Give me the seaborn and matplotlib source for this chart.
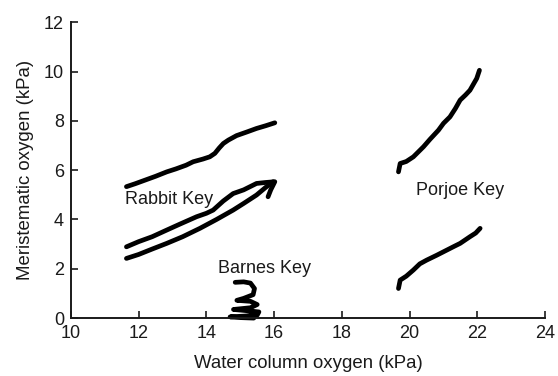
import matplotlib
matplotlib.use("Agg")
import matplotlib.pyplot as plt
import seaborn as sns
import pandas as pd

rabbit_top_x = [11.64, 11.9, 12.2, 12.5, 12.83, 13.1, 13.4, 13.61, 13.9, 14.10, 14.25, 14.38, 14.5, 14.65, 14.89, 15.2, 15.48, 15.75, 16.02]
rabbit_top_y = [5.33, 5.45, 5.6, 5.75, 5.93, 6.05, 6.2, 6.34, 6.45, 6.54, 6.68, 6.9, 7.08, 7.22, 7.4, 7.55, 7.69, 7.8, 7.92]

rabbit_mid_x = [11.64, 12.0, 12.4, 12.83, 13.2, 13.71, 14.0, 14.2, 14.5, 14.79, 15.1, 15.48, 15.75, 16.02, 15.9, 15.82]
rabbit_mid_y = [2.89, 3.1, 3.3, 3.57, 3.8, 4.11, 4.25, 4.38, 4.75, 5.05, 5.2, 5.46, 5.5, 5.53, 5.2, 4.92]

rabbit_low_x = [11.64, 12.0, 12.4, 12.83, 13.3, 13.81, 14.3, 14.79, 15.1, 15.48, 15.75, 15.97]
rabbit_low_y = [2.42, 2.58, 2.8, 3.03, 3.3, 3.64, 4.0, 4.38, 4.65, 4.99, 5.3, 5.53]

barnes_x = [14.85, 15.1, 15.3, 15.42, 15.38, 15.1, 14.9, 15.3, 15.5, 15.3, 14.8, 15.2, 15.55, 15.5, 15.1, 14.7, 15.0, 15.4]
barnes_y = [1.45, 1.47, 1.42, 1.2, 0.95, 0.8, 0.72, 0.68, 0.55, 0.42, 0.35, 0.3, 0.25, 0.12, 0.08, 0.05, 0.02, 0.0]

porjoe_top_x = [19.67, 19.72, 19.9, 20.11, 20.41, 20.6, 20.85, 21.0, 21.19, 21.35, 21.49, 21.65, 21.78, 21.98, 22.06]
porjoe_top_y = [5.93, 6.27, 6.35, 6.54, 6.95, 7.25, 7.62, 7.9, 8.16, 8.5, 8.84, 9.05, 9.24, 9.72, 10.05]

porjoe_low_x = [19.67, 19.72, 19.9, 20.11, 20.3, 20.50, 20.8, 21.10, 21.3, 21.49, 21.78, 21.95, 22.08]
porjoe_low_y = [1.20, 1.54, 1.7, 1.95, 2.2, 2.35, 2.55, 2.76, 2.9, 3.03, 3.30, 3.45, 3.64]

site_labels = ["Rabbit Key", "Barnes Key", "Porjoe Key"]
label_x = [11.6, 14.34, 20.19]
label_y = [4.82, 2.03, 5.19]

x_ticks = [10, 12, 14, 16, 18, 20, 22, 24]
y_ticks = [0, 2, 4, 6, 8, 10, 12]

series = {
    "rabbit_top": (rabbit_top_x, rabbit_top_y),
    "rabbit_mid": (rabbit_mid_x, rabbit_mid_y),
    "rabbit_low": (rabbit_low_x, rabbit_low_y),
    "barnes": (barnes_x, barnes_y),
    "porjoe_top": (porjoe_top_x, porjoe_top_y),
    "porjoe_low": (porjoe_low_x, porjoe_low_y),
}
rows = []
for name, (xs, ys) in series.items():
    for i, (a, b) in enumerate(zip(xs, ys)):
        rows.append({"series": name, "order": i, "x": a, "y": b})
df = pd.DataFrame(rows)

sns.set_style("ticks")
plt.rcParams["font.family"] = ["Liberation Sans", "DejaVu Sans"]

fig = plt.figure(figsize=(5.58, 3.76), dpi=100)
ax = fig.add_axes([0.127, 0.154, 0.85, 0.787])

sns.lineplot(data=df, x="x", y="y", units="series", estimator=None, sort=False,
             color="black", linewidth=3.4, ax=ax, legend=False,
             solid_capstyle="round", solid_joinstyle="round", clip_on=False)

for t, lx, ly in zip(site_labels, label_x, label_y):
    ax.text(lx, ly, t, fontsize=13, ha="left", va="center", color="#1a1a1a")

ax.set_xlim(10, 24)
ax.set_ylim(0, 12)
ax.set_xticks(x_ticks)
ax.set_yticks(y_ticks)
ax.tick_params(direction="in", length=5, width=1.2, labelsize=13, colors="#1a1a1a", pad=5)
ax.set_xlabel("Water column oxygen (kPa)", fontsize=13.4, color="#1a1a1a", labelpad=9)
ax.set_ylabel("Meristematic oxygen (kPa)", fontsize=13.4, color="#1a1a1a", labelpad=7)
for s in ["left", "bottom"]:
    ax.spines[s].set_linewidth(1.4)
    ax.spines[s].set_color("#1a1a1a")
sns.despine(ax=ax)

fig.savefig("out.png", dpi=100)
